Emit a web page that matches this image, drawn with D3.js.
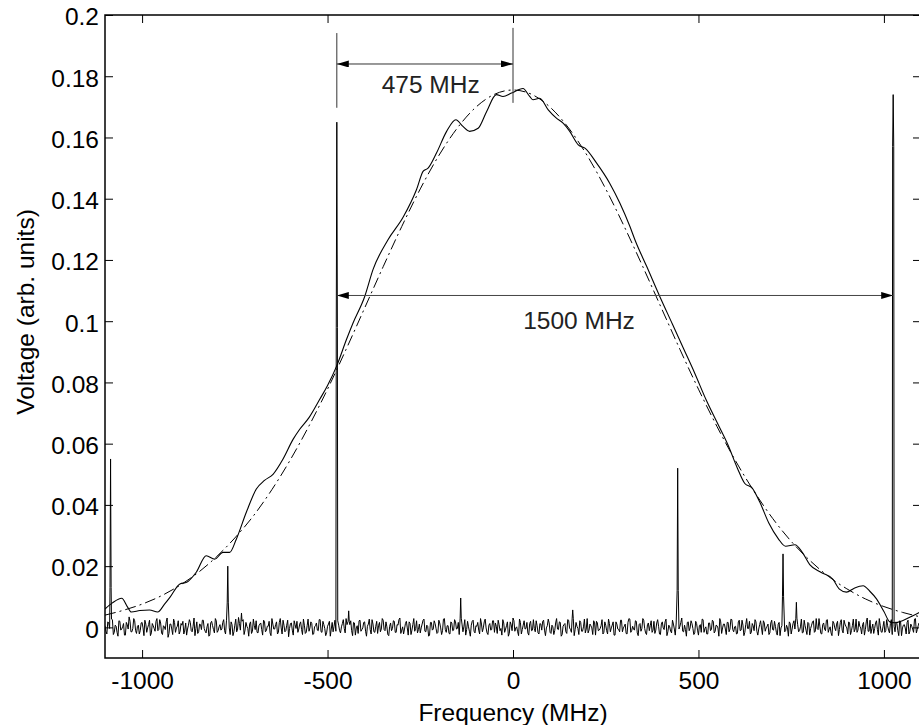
<!DOCTYPE html>
<html>
<head>
<meta charset="utf-8">
<script src="https://cdn.jsdelivr.net/npm/d3@7"></script>
<style>
  html, body { margin: 0; padding: 0; background: #fff; }
  svg { display: block; }
  text { font-family: "Liberation Sans", Arial, Helvetica, sans-serif; }
</style>
</head>
<body>
<svg id="chart" width="919" height="725"></svg>
<script>
// ---------------- data ----------------
const xTicks = [-1000, -500, 0, 500, 1000];
const xTickLabels = ["-1000", "-500", "0", "500", "1000"];
const yTicks = [0, 0.02, 0.04, 0.06, 0.08, 0.1, 0.12, 0.14, 0.16, 0.18, 0.2];
const yTickLabels = ["0", "0.02", "0.04", "0.06", "0.08", "0.1", "0.12", "0.14", "0.16", "0.18", "0.2"];

// measured gain profile (solid line)
const measFreq = [-1100,-1080,-1055,-1040,-1029,-1006,-980,-958,-940,-925,-898,-880,-854,-827,-804,-782,-764,-746,-719,-692,-670,-647,-620,-593,-575,-550,-521,-500,-475,-449,-431,-400,-377,-337,-296,-260,-242,-229,-206,-179,-154,-135,-117,-94,-71,-45,-27,-4,27,45,54,72,95,117,135,153,176,194,225,261,288,315,330,360,396,430,460,490,520,550,580,605,625,645,665,690,715,735,760,780,800,830,862,880,899,920,944,962,980,1000,1016,1030,1050,1078,1100];
const measVolt = [0.0060,0.0080,0.0095,0.0068,0.0050,0.0055,0.0057,0.0050,0.0075,0.0098,0.0142,0.0147,0.0180,0.0234,0.0223,0.0245,0.0245,0.0288,0.0376,0.0452,0.0480,0.0500,0.0550,0.0614,0.0647,0.0685,0.0745,0.0790,0.0855,0.0940,0.0995,0.1080,0.1170,0.1266,0.1340,0.1430,0.1490,0.1500,0.1550,0.1620,0.1658,0.1636,0.1620,0.1630,0.1685,0.1740,0.1734,0.1745,0.1760,0.1734,0.1723,0.1728,0.1690,0.1663,0.1647,0.1620,0.1576,0.1565,0.1517,0.1450,0.1386,0.1310,0.1262,0.1180,0.1080,0.0990,0.0910,0.0830,0.0745,0.0670,0.0595,0.0520,0.0470,0.0455,0.0410,0.0340,0.0290,0.0265,0.0270,0.0245,0.0205,0.0180,0.0158,0.0125,0.0115,0.0128,0.0136,0.0118,0.0093,0.0052,0.0018,0.0015,0.0022,0.0038,0.0052];

const fitFreq = [-1100,-1050,-1000,-950,-900,-850,-800,-750,-700,-650,-600,-550,-500,-450,-400,-350,-300,-250,-200,-150,-100,-50,0,50,100,150,200,250,300,350,400,450,500,550,600,650,700,750,800,850,900,950,1000,1050,1100];
const fitVolt = [0.0040,0.0056,0.0076,0.0102,0.0136,0.0178,0.0230,0.0292,0.0364,0.0450,0.0548,0.0658,0.0778,0.0908,0.1043,0.1178,0.1309,0.1432,0.1541,0.1631,0.1699,0.1741,0.1755,0.1741,0.1699,0.1631,0.1541,0.1432,0.1309,0.1178,0.1043,0.0908,0.0778,0.0656,0.0544,0.0444,0.0356,0.0281,0.0219,0.0167,0.0126,0.0093,0.0068,0.0049,0.0034];

// beat-note trace: baseline noise, units of 1.8e-4 V.
// noiseA sampled every 5 MHz from -1100 MHz, noiseB every 5 MHz from -1097.5 MHz
const noiseUnit = 0.00018, noiseStep = 5, noiseAStart = -1100, noiseBStart = -1097.5;
const noiseA = [
3,-12,8,-5,14,-9,2,-16,11,-3,7,-14,5,19,-8,-2,12,-11,4,-6,9,
-15,6,-1,13,-10,3,-7,16,-4,8,-13,1,10,-18,6,-3,15,-9,2,-12,7,
11,-5,-14,4,9,-8,17,-2,-11,6,-4,13,-7,1,-16,8,3,-10,12,-6,5,
-3,14,-12,7,-1,10,-15,4,-8,18,-5,2,-13,9,-2,6,-11,15,-4,-9,3,
8,-14,11,-6,2,-10,16,-3,5,-12,9,-1,13,-8,4,-17,7,-5,12,-2,-9,
6,-4,15,-11,3,-7,10,-13,1,8,-6,14,-9,5,-15,2,11,-3,-8,13,-5,
4,-10,7,-2,16,-12,5,-6,9,-14,3,12,-7,-1,10,-16,6,-4,14,-8,2,
-11,9,-3,13,-6,1,-15,8,-2,11,-9,4,17,-5,-12,7,-1,10,-13,5,-7,
12,-4,-10,6,15,-8,2,-14,9,-3,7,-11,13,-1,-6,16,-9,3,-12,8,-5,
10,-2,-13,5,-8,14,-4,1,-16,11,-7,3,9,-12,6,-1,15,-10,4,-5,12,
-9,2,13,-6,-14,8,-3,10,-11,5,17,-7,1,-15,9,-4,12,-2,-10,7,-6,
14,-8,3,-12,6,11,-5,-1,15,-9,4,-13,8,-3,10,-16,2,7,-11,13,-4,
5,-15,9,-2,12,-7,1,-10,16,-5,3,-13,8,11,-6,-2,14,-9,4,-12,7,
-1,10,-14,6,-4,13,-8,2,-11,9,15,-6,-3,12,-10,5,-7,16,-2,-13,8,
3,-9,11,-5,14,-12,6,-1,10,-15,4,-7,13,-3,8,-11,2,17,-8,-4,9,
-6,12,-2,-10,7,-14,5,15,-9,1,-12,8,-4,11,-7,3,-16,10,-1,6,-13,
9,-3,14,-8,2,-11,13,-5,4,-9,16,-2,-12,7,-6,10,-14,5,-1,12,-7,
2,-13,8,-4,11,-9,6,-15,3,14,-6,-1,10,-12,7,-3,15,-8,1,-10,13,
-5,9,-14,4,12,-7,-2,16,-11,5,-3,13,-9,1,-15,8,-6,11,-4,14,-10,
6,-1,10,-13,3,-8,15,-5,2,-12,9,-4,17,-7,-11,6,-2,12,-14,4,-9,
11,-6,3,-10,14,-3,-8,7,-15,10,-1,5,-12,13,-7,2,-9,16,-4,8,-11
];
const noiseB = [
-7,10,-2,15,-13,4,-9,12,-5,1,-14,9,-3,11,-8,16,-6,2,-12,8,-1,
13,-9,5,-15,7,-2,11,-6,14,-10,3,-4,17,-11,6,-13,9,-1,12,-7,4,
-12,8,-3,14,-6,2,-15,10,-8,5,13,-2,-10,7,-14,11,-4,16,-9,1,-5,
9,-6,12,-1,-13,5,-8,15,-3,7,-11,14,-5,2,-16,10,-7,3,12,-10,6,
-4,13,-8,2,11,-15,6,-3,10,-9,16,-12,4,-6,13,-2,8,-14,5,11,-3,
10,-13,4,-9,15,-1,7,-12,3,-5,14,-8,11,-2,-10,6,-16,9,2,-7,12,
-6,1,14,-10,5,-3,12,-15,8,-1,-11,13,-4,9,-7,2,15,-12,6,-9,11,
3,-8,16,-4,10,-13,2,-6,12,-9,5,14,-11,1,-3,11,-14,7,-5,16,-2,
-10,6,-1,13,-7,4,-16,9,-5,12,-2,-9,8,-13,15,-4,3,-11,10,-6,14,
-3,9,-12,6,1,-14,11,-7,4,13,-10,2,-5,16,-8,10,-1,-13,7,-4,12,
8,-11,5,-2,14,-9,3,-16,10,-6,12,-1,-8,15,-12,4,-3,9,-14,11,-5,
-2,12,-10,7,-5,13,-15,3,8,-11,1,-6,16,-4,9,-13,5,-8,14,-1,-9,
11,-4,2,-13,9,-7,15,-3,-10,6,-1,12,-14,8,-5,3,-12,10,-6,15,-8,
4,-14,10,-3,-8,13,-1,6,-12,16,-9,2,-5,11,-15,7,-2,13,-10,5,-6,
12,-5,-11,8,2,-13,10,-4,15,-8,1,-10,6,-14,12,-3,9,-7,4,-16,10,
-1,7,-13,11,-5,3,-9,14,-2,-12,8,-6,13,-10,4,-1,16,-11,6,-3,9,
-8,15,-4,1,-12,10,-6,13,-15,5,-2,11,-9,3,14,-7,-3,12,-13,8,-1,
6,-10,13,-5,2,-14,9,-1,11,-8,4,-16,7,-3,12,-11,5,-6,15,-9,3,
-13,7,-2,10,-9,16,-4,1,-12,8,-6,14,-3,-10,11,-1,6,-15,9,-5,13,
2,-12,8,-6,15,-3,-9,11,-1,5,-14,10,-7,13,-2,-11,8,-4,16,-8,1,
-9,14,-5,7,-13,2,10,-6,12,-15,4,-1,9,-12,6,-3,15,-10,3,-7,11
];
// narrow beat-note spikes
const spikeFreq     = [-1085, -769, -732, -475, -443, -141, 161, 444, 728, 764, 1025];
const spikePeak     = [0.055, 0.020, 0.0047, 0.165, 0.0054, 0.0096, 0.0057, 0.052, 0.024, 0.0082, 0.174];
const spikeShoulder = [0.013, 0.008, 0.002, 0.098, 0.002, 0.003, 0.003, 0.012, 0.010, 0.003, 0.157];

// annotations
const arrowSmallFreq = [-475, 0], arrowSmallVolt = 0.184, arrowSmallText = "475 MHz";
const arrowSmallTextPos = [-222, 0.1744];
const extLineFreq = [-475, 0], extLineTop = [0.1941, 0.1958], extLineBottom = [0.1697, 0.1713];
const arrowBigFreq = [-475, 1025], arrowBigVolt = 0.1084, arrowBigText = "1500 MHz";
const arrowBigTextPos = [178, 0.0975];

const xLabel = "Frequency (MHz)";
const yLabel = "Voltage (arb. units)";

// ---------------- drawing ----------------
const svg = d3.select("#chart");
const L = 105, T = 15, R = 921, B = 658;
const FS = "24.5px";

const x = d3.scaleLinear().domain([-1100, 1100]).range([L, R]);
const y = d3.scaleLinear().domain([-0.01, 0.2]).range([B, T]);

svg.append("rect").attr("width", 919).attr("height", 725).attr("fill", "#fff");

const defs = svg.append("defs");
defs.append("clipPath").attr("id", "clip")
  .append("rect").attr("x", L).attr("y", T).attr("width", R - L).attr("height", B - T);
defs.append("marker").attr("id", "arrow")
  .attr("viewBox", "0 0 12 7").attr("refX", 12).attr("refY", 3.5)
  .attr("markerWidth", 12).attr("markerHeight", 7)
  .attr("markerUnits", "userSpaceOnUse").attr("orient", "auto-start-reverse")
  .append("path").attr("d", "M0,0 L12,3.5 L0,7 Z").attr("fill", "#000");

const plot = svg.append("g").attr("clip-path", "url(#clip)");

// beat-note trace
let trace = noiseA.map((v, i) => [noiseAStart + i * noiseStep, v * noiseUnit])
  .concat(noiseB.map((v, i) => [noiseBStart + i * noiseStep, v * noiseUnit]));
spikeFreq.forEach((f, i) => {
  trace = trace.filter(p => Math.abs(p[0] - f) > 2.4);
  trace.push([f - 1.5, spikeShoulder[i]], [f, spikePeak[i]], [f + 1.5, spikeShoulder[i]]);
});
trace.sort((a, b) => a[0] - b[0]);

plot.append("path")
  .datum(trace)
  .attr("fill", "none").attr("stroke", "#000").attr("stroke-width", 1)
  .attr("d", d3.line().x(d => x(d[0])).y(d => y(d[1])));

// fit (dash-dot)
plot.append("path")
  .datum(fitFreq.map((f, i) => [f, fitVolt[i]]))
  .attr("fill", "none").attr("stroke", "#000").attr("stroke-width", 1)
  .attr("stroke-dasharray", "11,4,2,4")
  .attr("d", d3.line().curve(d3.curveMonotoneX).x(d => x(d[0])).y(d => y(d[1])));

// measured profile (solid)
plot.append("path")
  .datum(measFreq.map((f, i) => [f, measVolt[i]]))
  .attr("fill", "none").attr("stroke", "#000").attr("stroke-width", 1.1)
  .attr("d", d3.line().curve(d3.curveMonotoneX).x(d => x(d[0])).y(d => y(d[1])));

// annotations
const ann = svg.append("g");
extLineFreq.forEach((f, i) => {
  ann.append("line")
    .attr("x1", x(f)).attr("x2", x(f))
    .attr("y1", y(extLineTop[i])).attr("y2", y(extLineBottom[i]))
    .attr("stroke", "#333").attr("stroke-width", 1);
});
ann.append("line")
  .attr("x1", x(arrowSmallFreq[0])).attr("x2", x(arrowSmallFreq[1]))
  .attr("y1", y(arrowSmallVolt)).attr("y2", y(arrowSmallVolt))
  .attr("stroke", "#333").attr("stroke-width", 1)
  .attr("marker-start", "url(#arrow)").attr("marker-end", "url(#arrow)");
ann.append("text")
  .attr("x", x(arrowSmallTextPos[0])).attr("y", y(arrowSmallTextPos[1]))
  .attr("text-anchor", "middle").attr("font-size", FS).attr("fill", "#222")
  .text(arrowSmallText);
ann.append("line")
  .attr("x1", x(arrowBigFreq[0])).attr("x2", x(arrowBigFreq[1]))
  .attr("y1", y(arrowBigVolt)).attr("y2", y(arrowBigVolt))
  .attr("stroke", "#444").attr("stroke-width", 1)
  .attr("marker-start", "url(#arrow)").attr("marker-end", "url(#arrow)");
ann.append("text")
  .attr("x", x(arrowBigTextPos[0])).attr("y", y(arrowBigTextPos[1]))
  .attr("text-anchor", "middle").attr("font-size", FS).attr("fill", "#222")
  .text(arrowBigText);

// axes (MATLAB style: inward ticks on all four sides)
const TK = 8;
const gx = svg.append("g").attr("transform", `translate(0,${B})`)
  .call(d3.axisBottom(x).tickValues(xTicks).tickFormat((d, i) => xTickLabels[i]).tickSizeInner(-TK).tickSizeOuter(0));
gx.selectAll("text").attr("y", 14).attr("dy", "0.71em").attr("font-size", FS).attr("fill", "#000")
  .style("font-family", '"Liberation Sans", Arial, sans-serif');
const gy = svg.append("g").attr("transform", `translate(${L},0)`)
  .call(d3.axisLeft(y).tickValues(yTicks).tickFormat((d, i) => yTickLabels[i]).tickSizeInner(-TK).tickSizeOuter(0));
gy.selectAll("text").attr("x", -6).attr("dy", "0.4em").attr("font-size", FS).attr("fill", "#000")
  .style("font-family", '"Liberation Sans", Arial, sans-serif');
const gt = svg.append("g").attr("transform", `translate(0,${T})`)
  .call(d3.axisTop(x).tickValues(xTicks).tickFormat("").tickSizeInner(-TK).tickSizeOuter(0));
const gr = svg.append("g").attr("transform", `translate(${R},0)`)
  .call(d3.axisRight(y).tickValues(yTicks).tickFormat("").tickSizeInner(-TK).tickSizeOuter(0));
[gx, gy, gt, gr].forEach(g => {
  g.select(".domain").remove();
  g.selectAll(".tick line").attr("stroke", "#000").attr("stroke-width", 1);
});

svg.append("rect")
  .attr("x", L).attr("y", T).attr("width", R - L).attr("height", B - T)
  .attr("fill", "none").attr("stroke", "#000").attr("stroke-width", 1.5);

// axis labels
svg.append("text")
  .attr("x", x(0)).attr("y", 721)
  .attr("text-anchor", "middle").attr("font-size", FS).attr("fill", "#000")
  .text(xLabel);
svg.append("text")
  .attr("transform", "translate(34,312) rotate(-90)")
  .attr("text-anchor", "middle").attr("font-size", FS).attr("fill", "#000")
  .text(yLabel);
</script>
</body>
</html>
